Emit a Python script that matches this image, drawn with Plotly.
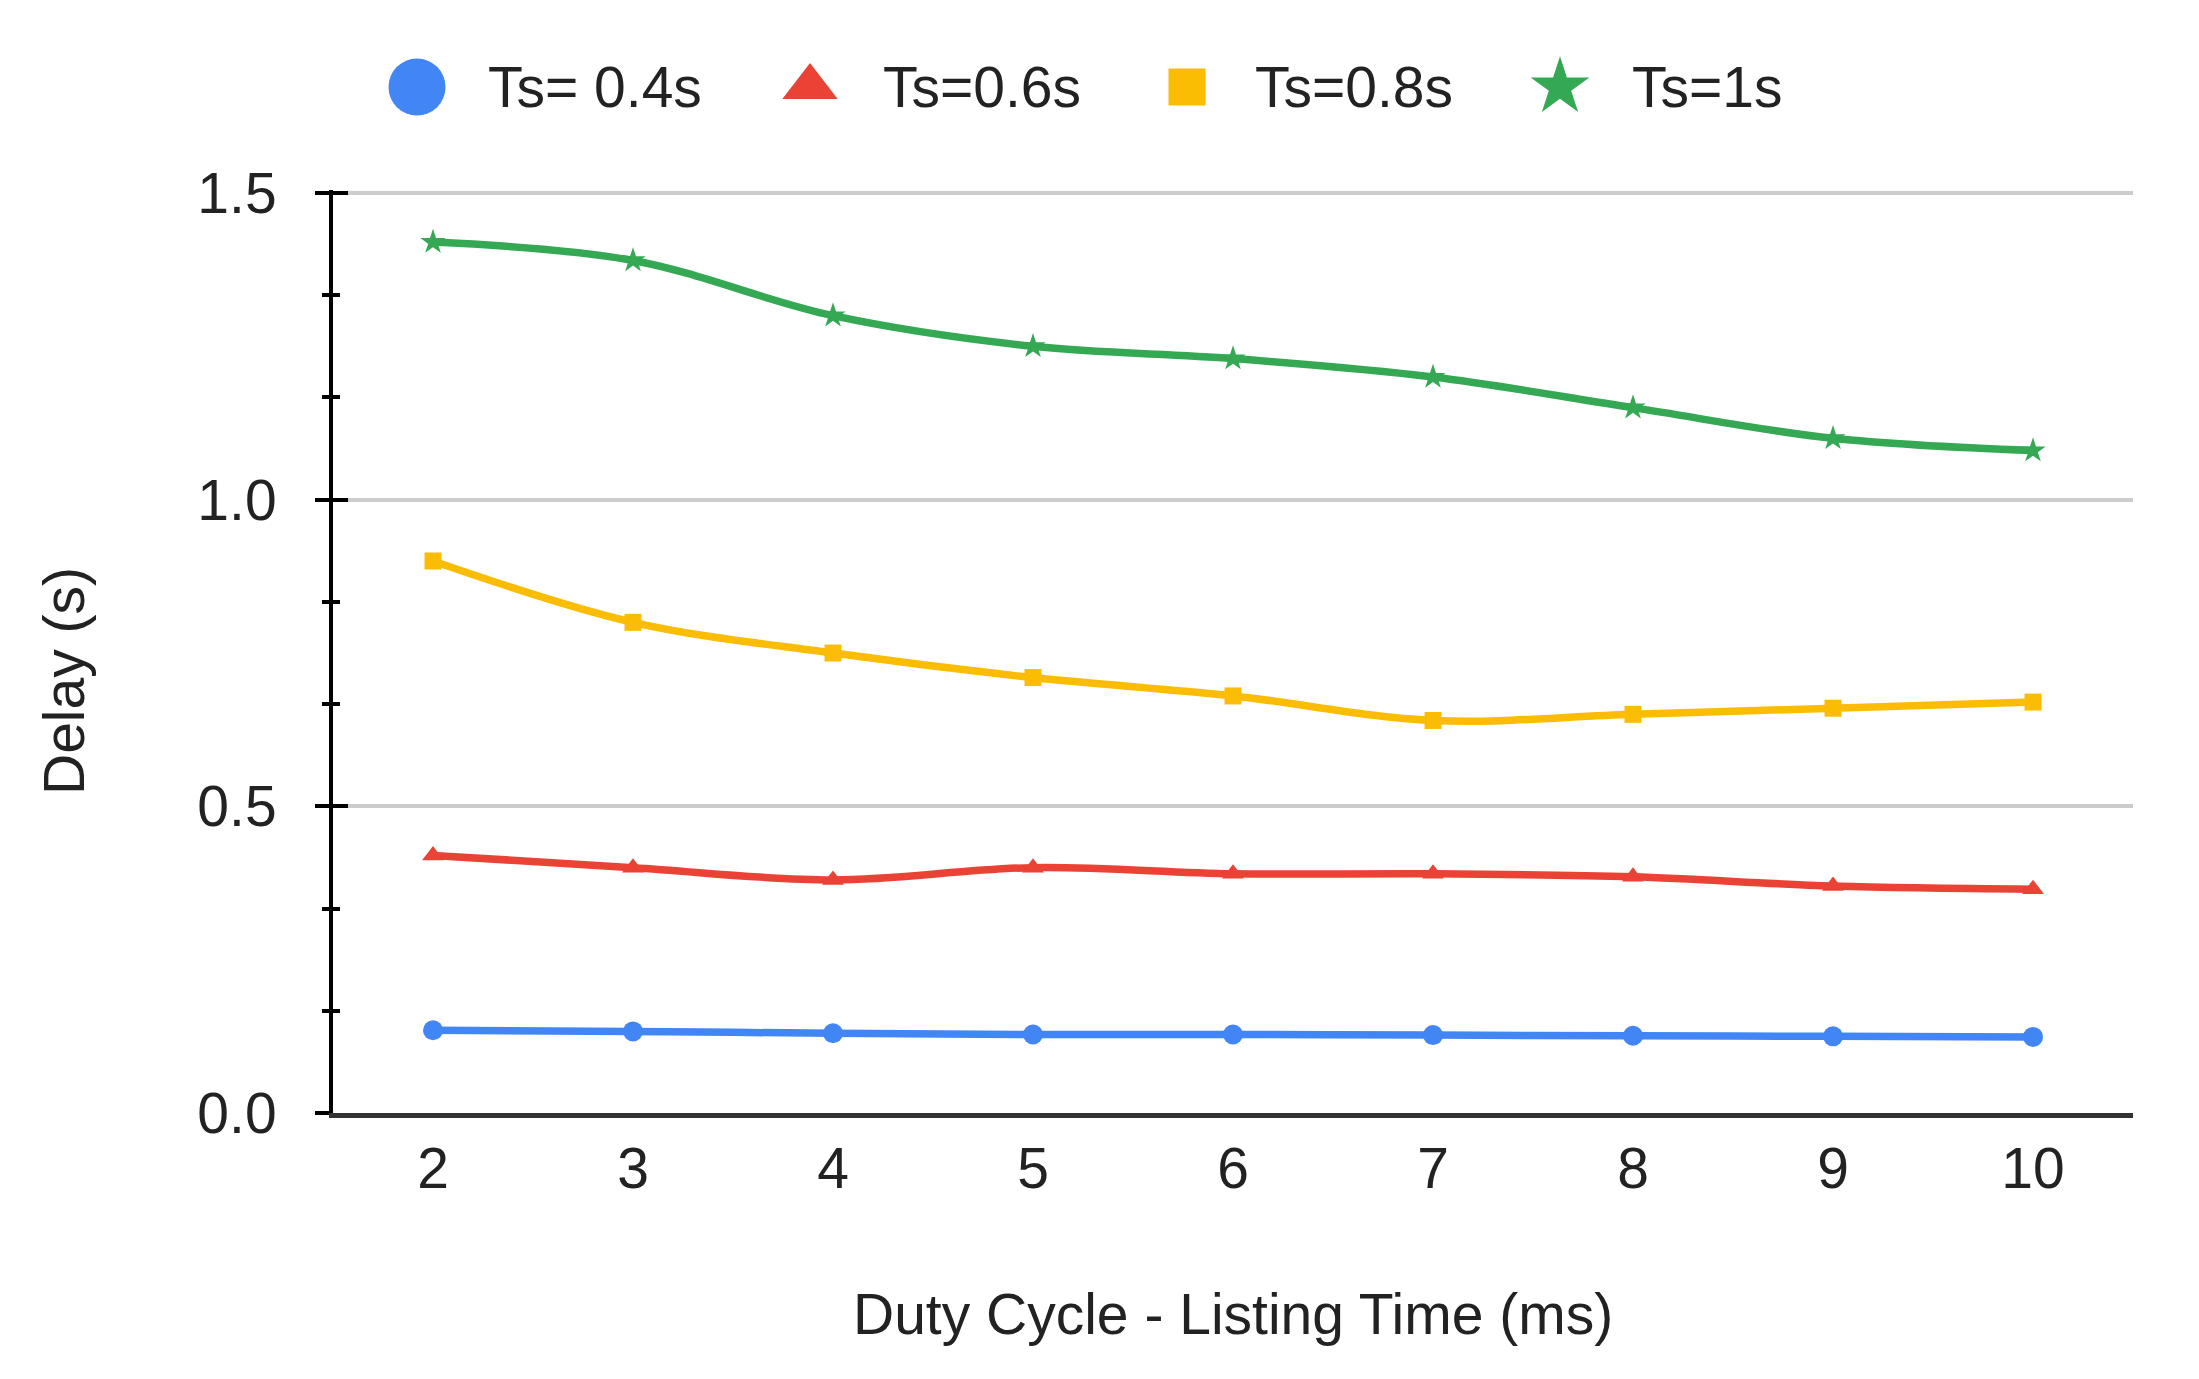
import plotly.graph_objects as go

W, H = 2199, 1379

duty_cycle = [2, 3, 4, 5, 6, 7, 8, 9, 10]
delay_ts_04 = [0.135, 0.133, 0.130, 0.128, 0.128, 0.127, 0.126, 0.125, 0.124]
delay_ts_06 = [0.42, 0.40, 0.38, 0.40, 0.39, 0.39, 0.385, 0.37, 0.365]
delay_ts_08 = [0.90, 0.80, 0.75, 0.71, 0.68, 0.64, 0.65, 0.66, 0.67]
delay_ts_1 = [1.42, 1.39, 1.30, 1.25, 1.23, 1.20, 1.15, 1.10, 1.08]

series_names = ["Ts= 0.4s", "Ts=0.6s", "Ts=0.8s", "Ts=1s"]
series_values = [delay_ts_04, delay_ts_06, delay_ts_08, delay_ts_1]
colors = ["#4285F4", "#EA4335", "#FBBC04", "#34A853"]
symbols = ["circle", "triangle-up", "square", "star"]
marker_sizes = [20, 19, 17, 19]
legend_marker_sizes = [57, 48, 37, 44]
legend_marker_px = [417, 810, 1187, 1560]
legend_text_px = [486, 881, 1253, 1630]
legend_y_px = 87

FONT = "Arial, Liberation Sans, sans-serif"
TXT = "#222222"
FS = 57

X_RANGE = [1.5, 10.5]
Y_MAX_TICK = 1.5
Y_RANGE = [0, 1.505]

# plot-area position in pixels (y top corresponds to the 1.5 gridline)
pl, pr, y15, pb = 333, 2133, 193, 1113
pt = pb - (pb - y15) * Y_RANGE[1] / Y_MAX_TICK

fig = go.Figure()

for name, vals, c, s, ms in zip(series_names, series_values, colors, symbols, marker_sizes):
    fig.add_trace(go.Scatter(
        x=duty_cycle, y=vals, name=name, mode="lines+markers",
        line=dict(color=c, width=7.5, shape="spline", smoothing=1.0),
        marker=dict(symbol=s, size=ms, color=c, line=dict(width=0)),
        showlegend=False, xaxis="x", yaxis="y",
    ))

# invisible trace to host the overlay axis (inside ticks)
fig.add_trace(go.Scatter(x=duty_cycle, y=delay_ts_04, mode="none",
                         showlegend=False, hoverinfo="skip", xaxis="x", yaxis="y2"))

# custom legend (markers only, like the original)
for i, (name, c, s, lms) in enumerate(zip(series_names, colors, symbols, legend_marker_sizes)):
    fig.add_trace(go.Scatter(
        x=[legend_marker_px[i]], y=[legend_y_px], mode="markers",
        marker=dict(symbol=s, size=lms, color=c, line=dict(width=0)),
        showlegend=False, hoverinfo="skip", xaxis="x3", yaxis="y3",
    ))
    fig.add_annotation(
        x=legend_text_px[i] / W, y=1 - legend_y_px / H, xref="paper", yref="paper",
        text=name, showarrow=False, xanchor="left", yanchor="middle",
        font=dict(family=FONT, size=FS, color=TXT),
    )

fig.add_annotation(
    x=(pl + pr) / 2 / W, y=1 - 1314 / H, xref="paper", yref="paper",
    text="Duty Cycle - Listing Time (ms)", showarrow=False,
    xanchor="center", yanchor="middle", font=dict(family=FONT, size=FS, color=TXT),
)
fig.add_annotation(
    x=64 / W, y=1 - 681 / H, xref="paper", yref="paper",
    text="Delay (s)", showarrow=False, textangle=-90,
    xanchor="center", yanchor="middle", font=dict(family=FONT, size=FS, color=TXT),
)

fig.update_layout(
    width=W, height=H,
    margin=dict(l=0, r=0, t=0, b=0, autoexpand=False),
    paper_bgcolor="white", plot_bgcolor="rgba(0,0,0,0)",
    font=dict(family=FONT, size=FS, color=TXT),
    showlegend=False,
    xaxis=dict(
        domain=[pl / W, pr / W], range=X_RANGE, tickmode="array", tickvals=duty_cycle,
        showgrid=False, zeroline=False, showline=True, linecolor="#333333", linewidth=5,
        ticks="", ticklabelstandoff=2, tickfont=dict(size=FS, color=TXT),
        anchor="y", fixedrange=True,
    ),
    yaxis=dict(
        domain=[(H - pb) / H, (H - pt) / H], range=Y_RANGE, dtick=0.5, tick0=0,
        tickformat=".1f",
        showgrid=True, gridcolor="#cccccc", gridwidth=3.5, zeroline=False,
        showline=True, linecolor="black", linewidth=4,
        ticks="outside", ticklen=14, tickwidth=4, tickcolor="black",
        minor=dict(dtick=0.5 / 3, ticks="outside", ticklen=7, tickwidth=4,
                   tickcolor="black", showgrid=False),
        ticklabelstandoff=27, tickfont=dict(size=FS, color=TXT),
        anchor="x", fixedrange=True,
    ),
    yaxis2=dict(
        overlaying="y", anchor="x", side="left", range=Y_RANGE, dtick=0.5, tick0=0,
        showgrid=False, zeroline=False, showline=False, showticklabels=False,
        ticks="inside", ticklen=15, tickwidth=4, tickcolor="black",
        minor=dict(dtick=0.5 / 3, ticks="inside", ticklen=7, tickwidth=4,
                   tickcolor="black", showgrid=False),
        fixedrange=True,
    ),
    xaxis3=dict(domain=[0, 1], range=[0, W], visible=False, anchor="y3", fixedrange=True),
    yaxis3=dict(domain=[0, 1], range=[H, 0], visible=False, anchor="x3", fixedrange=True),
)

fig.write_html("out.html", config={"displayModeBar": False},
               post_script="document.body.style.margin='0px';")
